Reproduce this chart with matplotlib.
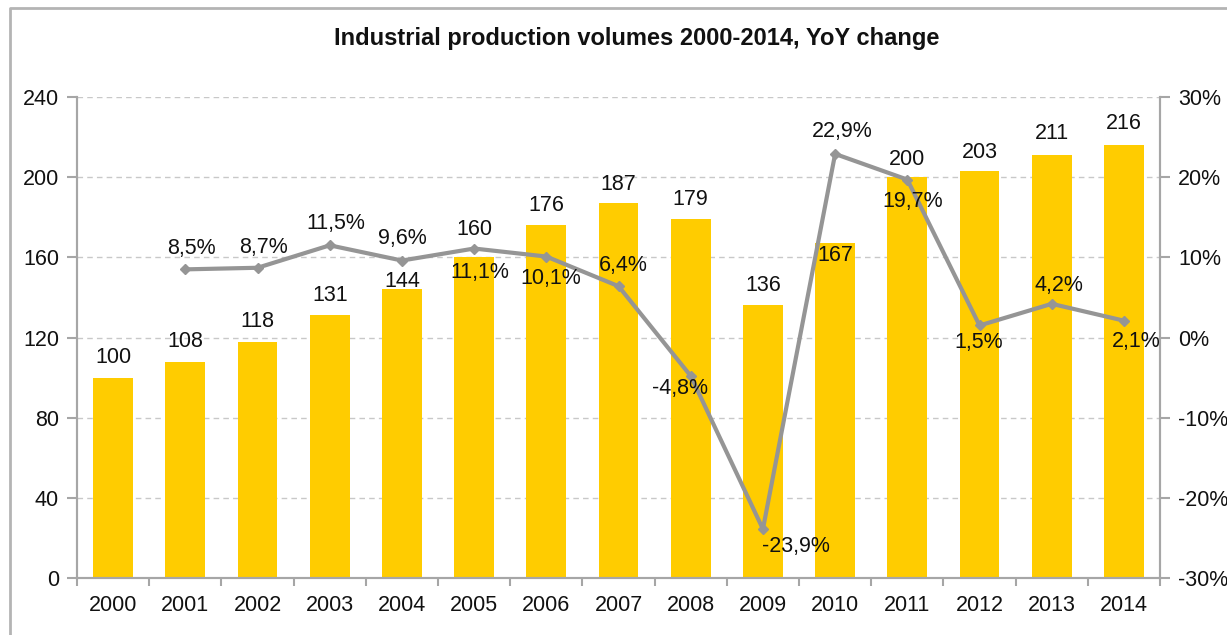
import matplotlib
matplotlib.use('Agg')
import matplotlib.pyplot as plt
from matplotlib.lines import Line2D
from matplotlib.ticker import FuncFormatter

plt.rcParams['font.family'] = ['Liberation Sans', 'DejaVu Sans']

years = ['2000', '2001', '2002', '2003', '2004', '2005', '2006', '2007',
         '2008', '2009', '2010', '2011', '2012', '2013', '2014']
volumes = [100, 108, 118, 131, 144, 160, 176, 187, 179, 136, 167, 200, 203, 211, 216]
yoy = [None, 8.5, 8.7, 11.5, 9.6, 11.1, 10.1, 6.4, -4.8, -23.9, 22.9, 19.7, 1.5, 4.2, 2.1]

# label placement (pixels), picked to match the original layout
bar_lab_dy = [20, 20, 20, 20, 8, 28, 20, 19, 20, 20, -12, 18, 19, 22, 22]
pct_lab_off = [None, (6, 21), (6, 20), (6, 22), (0, 22), (6, -24), (4, -22), (5, 21),
               (-11, -13), (33, -17), (7, 22), (5, -22), (-1, -17), (7, 18), (12, -21)]

text_col = '#111111'
bar_col = '#ffcc00'
line_col = '#959595'
axis_col = '#a6a6a6'

fig = plt.figure(figsize=(12.27, 6.35), dpi=100)
ax = fig.add_axes([0.0628, 0.0898, 0.8826, 0.7574])
ax2 = ax.twinx()

x = list(range(len(years)))
ax.bar(x, volumes, width=0.55, color=bar_col, zorder=2)
ax.set_xlim(-0.5, len(years) - 0.5)
ax.set_ylim(0, 240)
ax.set_yticks(range(0, 241, 40))
ax.yaxis.grid(True, linestyle=(0, (4, 3)), color='#c8c8c8', linewidth=1, zorder=0)
ax.set_axisbelow(True)

for i, v in enumerate(volumes):
    ax.annotate(str(v), (i, v), xytext=(0, bar_lab_dy[i]), textcoords='offset pixels',
                ha='center', va='center', fontsize=15.5, color=text_col, zorder=5)

px = [i for i, p in enumerate(yoy) if p is not None]
py = [p for p in yoy if p is not None]
ax2.plot(px, py, color=line_col, linewidth=3, marker='D', markersize=5, zorder=4)
ax2.set_ylim(-30, 30)
ax2.set_yticks(range(-30, 31, 10))
ax2.yaxis.set_major_formatter(FuncFormatter(lambda v, pos: f'{int(v)}%'))

for i, p in zip(px, py):
    dx, dy = pct_lab_off[i]
    ax2.annotate(f'{p:.1f}%'.replace('.', ','), (i, p), xytext=(dx, dy),
                 textcoords='offset pixels', ha='center', va='center',
                 fontsize=15.5, color=text_col, zorder=6)

ax.set_xticks(x)
ax.set_xticklabels(years)
ax.set_xticks([i - 0.5 for i in range(len(years) + 1)], minor=True)
ax.tick_params(axis='x', which='major', length=0, pad=12, labelsize=15.5, labelcolor=text_col)
ax.tick_params(axis='x', which='minor', length=6, width=1.5, color=axis_col, direction='out')
ax.tick_params(axis='y', length=7, width=1.5, color=axis_col, labelsize=15.5, labelcolor=text_col, pad=6)
ax2.tick_params(axis='y', length=7, width=1.5, color=axis_col, labelsize=15.5, labelcolor=text_col, pad=6)

for a in (ax, ax2):
    a.spines['top'].set_visible(False)
    for s in ('left', 'right', 'bottom'):
        a.spines[s].set_color(axis_col)
        a.spines[s].set_linewidth(1.5)

fig.text(0.519, 0.94, 'Industrial production volumes 2000-2014, YoY change',
         ha='center', va='center', fontsize=17, fontweight='bold', color=text_col)

# outer frame (left and top edges visible in the original)
fig.add_artist(Line2D([0.0085, 0.0085, 1.0], [0.0, 0.9874, 0.9874],
                      transform=fig.transFigure, color='#b4b4b4', linewidth=2))

plt.savefig('out.png', dpi=100)
plt.close()
